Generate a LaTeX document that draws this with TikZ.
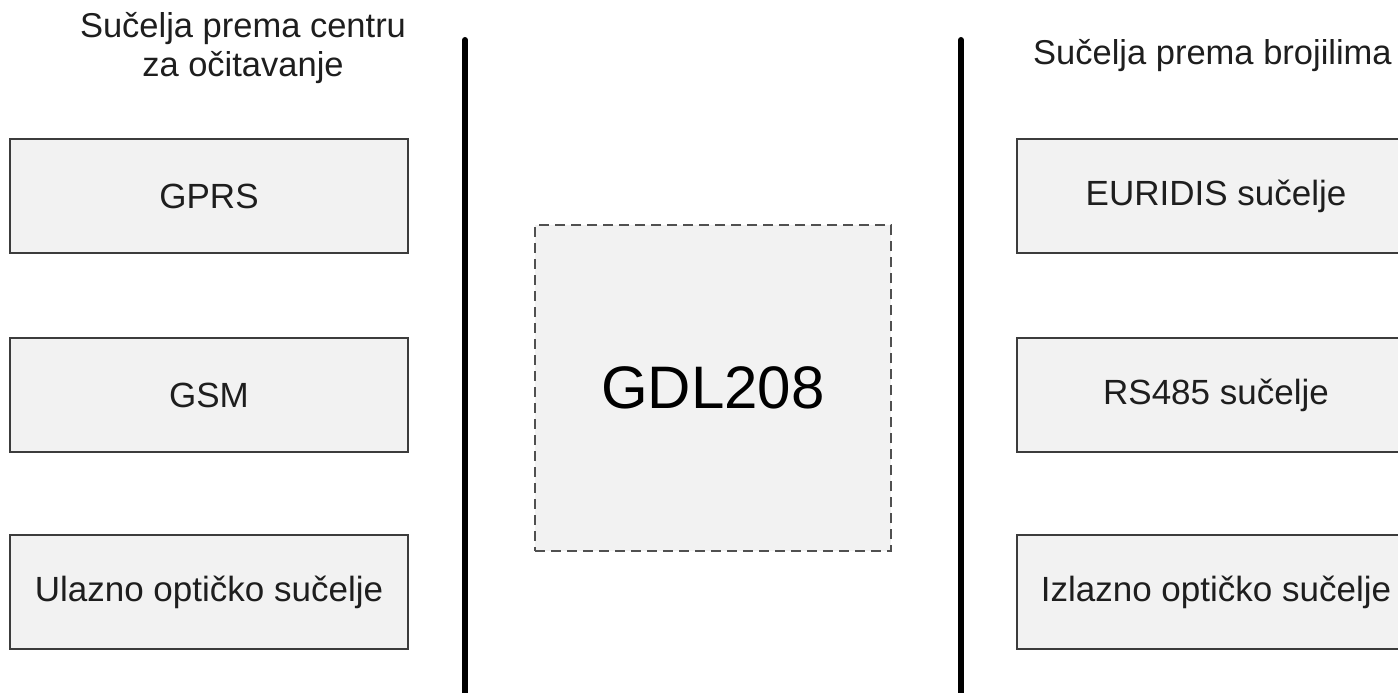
\documentclass[tikz,border=0pt]{standalone}
\usepackage{fontspec}
\setmainfont{Liberation Sans}
\definecolor{boxfill}{HTML}{F2F2F2}
\definecolor{boxline}{HTML}{3C3C3C}
\definecolor{txt}{HTML}{1E1E1E}
\tikzset{
  iface/.style={draw=boxline, line width=1.6pt, fill=boxfill, minimum width=398pt, minimum height=114pt, inner sep=0pt, text=txt, font=\fontsize{35}{40}\selectfont},
  hdr/.style={text=txt, font=\fontsize{34.5}{39}\selectfont, align=center, inner sep=0pt},
  sep/.style={line width=6pt, line cap=round},
  core/.style={draw=boxline!90, dashed, dash pattern=on 10pt off 6pt, line width=1.6pt, fill=boxfill, minimum width=356pt, minimum height=326pt, inner sep=0pt, font=\fontsize{60}{70}\selectfont}
}
\begin{document}
\begin{tikzpicture}[x=1pt,y=-1pt]
\useasboundingbox (0,0) rectangle (1398,693);
\begin{scope}
\clip (0,0) rectangle (1398,693);
% headers
\node[hdr] (hl) at (243,48) {Sučelja prema centru\\za očitavanje};
\node[hdr, anchor=base west] (hr) at (1033,65) {Sučelja prema brojilima};
% separators
\coordinate (l1) at (465,40);
\coordinate (l2) at (465,700);
\coordinate (r1) at (961,40);
\coordinate (r2) at (961,700);
\draw[sep] (l1) -- (l2);
\draw[sep] (r1) -- (r2);
% left boxes
\node[iface] (gprs) at (209,196) {GPRS};
\node[iface] (gsm) at (209,395) {GSM};
\node[iface] (ul) at (209,592) {Ulazno optičko sučelje};
% right boxes
\node[iface] (eur) at (1216,196) {EURIDIS sučelje};
\node[iface] (rs) at (1216,395) {RS485 sučelje};
\node[iface] (iz) at (1216,592) {Izlazno optičko sučelje};
% core
\node[core] (gdl) at (713,388) {GDL208};
\end{scope}
\end{tikzpicture}
\end{document}
